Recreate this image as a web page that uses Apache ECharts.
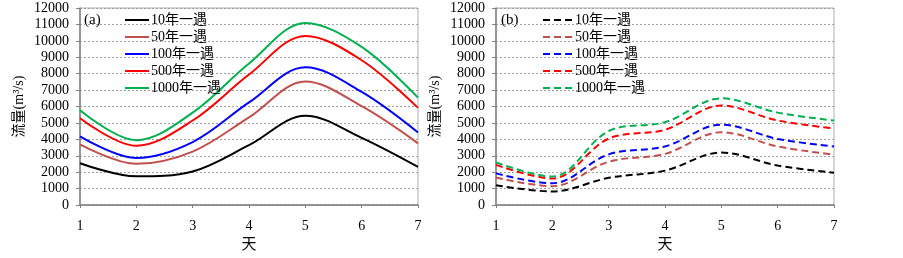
<!DOCTYPE html>
<html>
<head>
<meta charset="utf-8">
<script src="https://cdn.jsdelivr.net/npm/echarts@6/dist/echarts.min.js"></script>
<style>
  html, body { margin: 0; padding: 0; background: #fff; }
  #chart { width: 903px; height: 258px; }
</style>
</head>
<body>
<div id="chart"></div>
<script>
// days on the x axis
var days = ['1', '2', '3', '4', '5', '6', '7'];
var seriesNames = ['10年一遇', '50年一遇', '100年一遇', '500年一遇', '1000年一遇'];

// (a) solid curves
var a10 = [2550, 1750, 2050, 3650, 5440, 4090, 2320];
var a50 = [3700, 2510, 3260, 5340, 7520, 6020, 3760];
var a100 = [4190, 2870, 3840, 6250, 8390, 6890, 4420];
var a500 = [5290, 3610, 5150, 7950, 10300, 8820, 5920];
var a1000 = [5770, 3950, 5630, 8620, 11090, 9630, 6540];

// (b) dashed curves
var b10 = [1210, 830, 1660, 2100, 3200, 2410, 1970];
var b50 = [1680, 1150, 2640, 3120, 4440, 3570, 3070];
var b100 = [1930, 1330, 3090, 3570, 4900, 4030, 3570];
var b500 = [2450, 1620, 4050, 4590, 6060, 5150, 4670];
var b1000 = [2600, 1740, 4510, 5050, 6500, 5630, 5150];

var colors = ['#000000', '#C0504D', '#0000FF', '#FF0000', '#00B050'];
var serif = '"Liberation Serif", "Noto Sans CJK SC", serif';
var dash = [7, 4];

var chart = echarts.init(document.getElementById('chart'));

function xAxisOf(idx) {
  return {
    type: 'category',
    gridIndex: idx,
    data: days,
    boundaryGap: false,
    name: '天',
    nameLocation: 'middle',
    nameGap: 29,
    nameTextStyle: { color: '#000', fontSize: 15, fontFamily: serif },
    axisLine: { lineStyle: { color: '#808080', width: 1.5 } },
    axisTick: { show: true, length: 3, lineStyle: { color: '#808080' } },
    axisLabel: { color: '#000', fontSize: 14, fontFamily: serif, margin: 14 },
    splitLine: { show: false }
  };
}

function yAxisOf(idx) {
  return {
    type: 'value',
    gridIndex: idx,
    min: 0,
    max: 12000,
    interval: 1000,
    name: '流量(m³/s)',
    nameLocation: 'middle',
    nameRotate: 90,
    nameGap: 54,
    nameTextStyle: { color: '#000', fontSize: 14, fontFamily: serif },
    axisLine: { show: true, lineStyle: { color: '#808080', width: 1.5 } },
    axisTick: { show: true, length: 4, lineStyle: { color: '#808080' } },
    axisLabel: {
      color: '#000', fontSize: 14, fontFamily: serif, margin: 11,
      formatter: function (v) { return String(v); }
    },
    splitLine: { show: true, lineStyle: { color: '#a0a0a0', type: [2, 2], width: 1 } }
  };
}

function makeSeries(idx, lists, dashed) {
  return lists.map(function (vals, i) {
    return {
      name: seriesNames[i],
      type: 'line',
      xAxisIndex: idx,
      yAxisIndex: idx,
      data: vals,
      smooth: 0.35,
      showSymbol: false,
      symbol: 'none',
      color: colors[i],
      lineStyle: { color: colors[i], width: 2, type: dashed ? dash : 'solid' }
    };
  });
}

function legendOf(left, width, dashed) {
  return {
    orient: 'vertical',
    left: left,
    top: 13,
    padding: 0,
    itemWidth: width,
    itemHeight: 14,
    itemGap: 3,
    itemStyle: { opacity: 0 },
    lineStyle: { width: 2, type: dashed ? dash : 'solid' },
    data: seriesNames.map(function (n) { return { name: n }; }),
    textStyle: { color: '#000', fontSize: 14, lineHeight: 14, fontFamily: serif, padding: [0, 0, 0, -3] },
    selectedMode: false
  };
}

var option = {
  backgroundColor: '#fff',
  animation: false,
  grid: [
    { left: 80, top: 8, width: 338, height: 207, show: true, borderColor: '#b0b0b0', borderWidth: 1 },
    { left: 496, top: 8, width: 338, height: 207, show: true, borderColor: '#b0b0b0', borderWidth: 1 }
  ],
  xAxis: [xAxisOf(0), xAxisOf(1)],
  yAxis: [yAxisOf(0), yAxisOf(1)],
  legend: [legendOf(124, 24, false), legendOf(542, 30, true)],
  graphic: [
    { type: 'text', left: 84, top: 13, style: { text: '(a)', fontSize: 15, fontFamily: serif, fill: '#000' } },
    { type: 'text', left: 501, top: 13, style: { text: '(b)', fontSize: 15, fontFamily: serif, fill: '#000' } }
  ],
  series: makeSeries(0, [a10, a50, a100, a500, a1000], false)
    .concat(makeSeries(1, [b10, b50, b100, b500, b1000], true))
};

chart.setOption(option);
</script>
</body>
</html>
